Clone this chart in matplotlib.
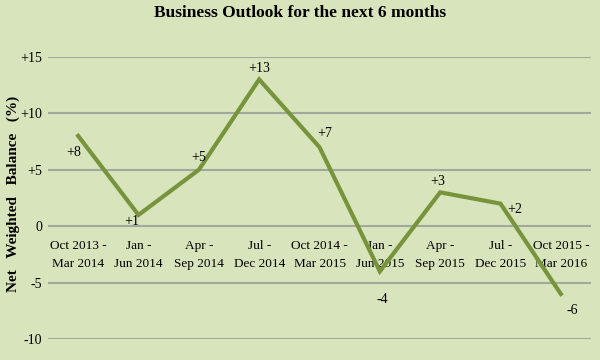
import numpy as np
import matplotlib.pyplot as plt
from matplotlib.ticker import FixedLocator

plt.rcParams['font.family'] = ['Liberation Serif', 'DejaVu Serif']

periods = ['Oct 2013 -\nMar 2014', 'Jan -\nJun 2014', 'Apr -\nSep 2014', 'Jul -\nDec 2014',
           'Oct 2014 -\nMar 2015', 'Jan -\nJun 2015', 'Apr -\nSep 2015', 'Jul -\nDec 2015',
           'Oct 2015 -\nMar 2016']
balance = [8, 1, 5, 13, 7, -4, 3, 2, -6]
y_ticks = [-10, -5, 0, 5, 10, 15]
y_labels = ['-10', '-5', '0', '+5', '+10', '+15']

# label offsets (points) relative to each point
offsets = [(-3, -12), (-5, -5), (0, 9), (0, 8), (4, 10), (2, -20), (-2, 8), (10, -4), (8, -12)]

bg = '#d8e4bc'
green = '#77933c'

fig = plt.figure(figsize=(6, 3.6), dpi=100, facecolor=bg)
ax = fig.add_axes([0.08, 0.058, 0.905, 0.784])
ax.set_facecolor(bg)

x = np.arange(len(periods))
ax.plot(x, balance, color=green, linewidth=3, solid_joinstyle='miter')

for xi, v, (dx, dy) in zip(x, balance, offsets):
    lab = f'+{v}' if v > 0 else str(v)
    ax.annotate(lab, (xi, v), xytext=(dx, dy), textcoords='offset points',
                ha='center', va='center', fontsize=10)

ax.set_xlim(-0.5, len(periods) - 0.5)
ax.set_ylim(-10, 15)
ax.yaxis.set_major_locator(FixedLocator(y_ticks))
ax.set_yticklabels(y_labels, fontsize=10)
ax.grid(axis='y', color='#a3a89e', linewidth=1.5)
ax.set_axisbelow(True)

ax.spines['bottom'].set_position(('data', 0))
for s in ['top', 'right', 'left', 'bottom']:
    ax.spines[s].set_visible(False)

ax.set_xticks(x)
ax.set_xticklabels(periods, fontsize=9.5, linespacing=1.6)
ax.tick_params(axis='both', length=0)
ax.tick_params(axis='x', pad=10)
ax.tick_params(axis='y', pad=4)

# y label placed by hand so it isn't cut at the left edge
fig.text(0.022, 0.46, 'Net   Weighted   Balance   (%)', rotation=90, fontsize=11,
         fontweight='bold', ha='center', va='center')
fig.suptitle('Business Outlook for the next 6 months', fontsize=12.5, fontweight='bold', y=0.985)

fig.savefig('out.png', dpi=100, facecolor=bg)
